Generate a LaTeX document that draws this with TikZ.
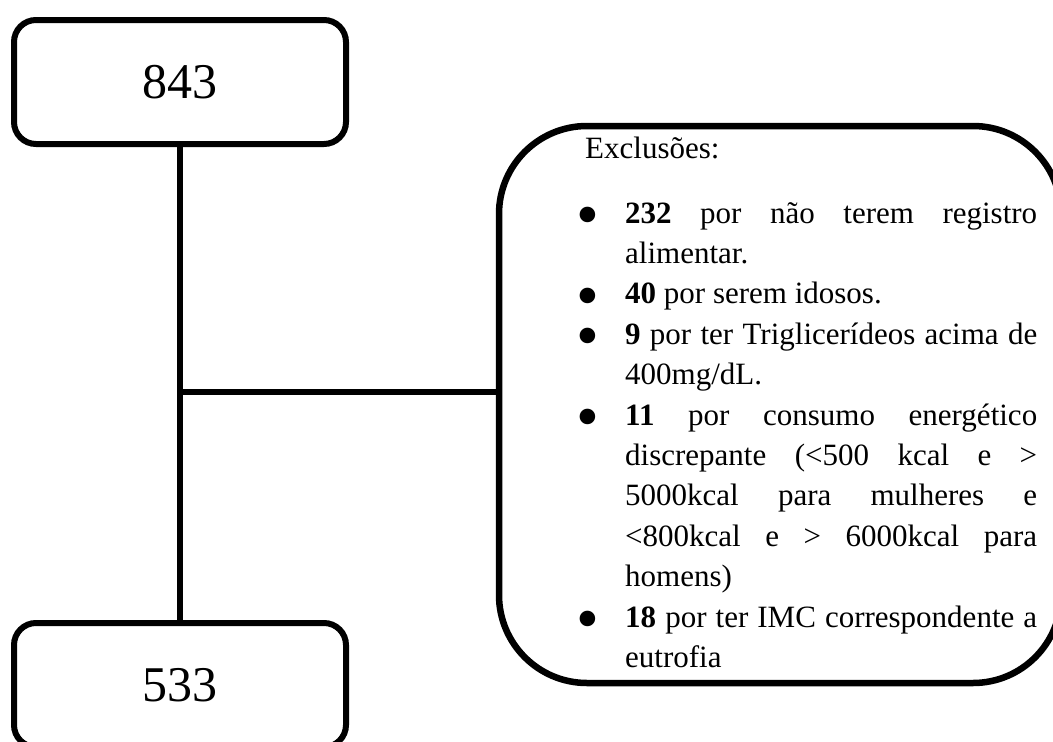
\documentclass[tikz,border=0pt]{standalone}
\usepackage{graphicx}
\usepackage{fontspec}
\setmainfont{Liberation Serif}
\newcommand\exbul{\leavevmode\llap{\raisebox{-13.5pt}{\scalebox{2.1}{\textbullet}}\hspace{26pt}}}
\newcommand\exjust[1]{\makebox[\linewidth][s]{#1}}
\begin{document}
\begin{tikzpicture}[x=1pt,y=-1pt,
  numbox/.style={draw,line width=6pt,rounded corners=22pt,minimum width=332pt,minimum height=124pt,inner sep=0pt,font=\fontsize{50}{60}\selectfont},
  link/.style={line width=6.5pt},
  exclbox/.style={draw,line width=6.5pt,rounded corners=88pt,minimum width=562pt,minimum height=557pt,inner sep=0pt},
  txt/.style={anchor=base west,inner sep=0pt,font=\fontsize{31}{40.4}\selectfont}]
\useasboundingbox (0,0) rectangle (1053,742);
\clip (0,0) rectangle (1053,742);
\node[numbox] (top) at (180,82) {843};
\node[numbox] (bot) at (180,685) {533};
\node[exclbox] (excl) at (780,404.5) {};
\node[txt] (title) at (585,158) {Exclusões:};
\node[txt] (list) at (625,223) {\begin{minipage}[t]{412pt}\fontsize{31}{40.4}\selectfont
\exbul\exjust{\textbf{232} por não terem registro}\par
alimentar.\par
\exbul\textbf{40} por serem idosos.\par
\exbul\exjust{\textbf{9} por ter Triglicerídeos acima de}\par
400mg/dL.\par
\exbul\exjust{\textbf{11} por consumo energético}\par
\exjust{discrepante (<500 kcal e >}\par
\exjust{5000kcal para mulheres e}\par
\exjust{<800kcal e > 6000kcal para}\par
homens)\par
\exbul\exjust{\textbf{18} por ter IMC correspondente a}\par
eutrofia
\end{minipage}};
\draw[link] (top.south) -- (bot.north);
\coordinate (j) at (180,392);
\draw[link] (j) -- (j -| excl.west);
\end{tikzpicture}
\end{document}
